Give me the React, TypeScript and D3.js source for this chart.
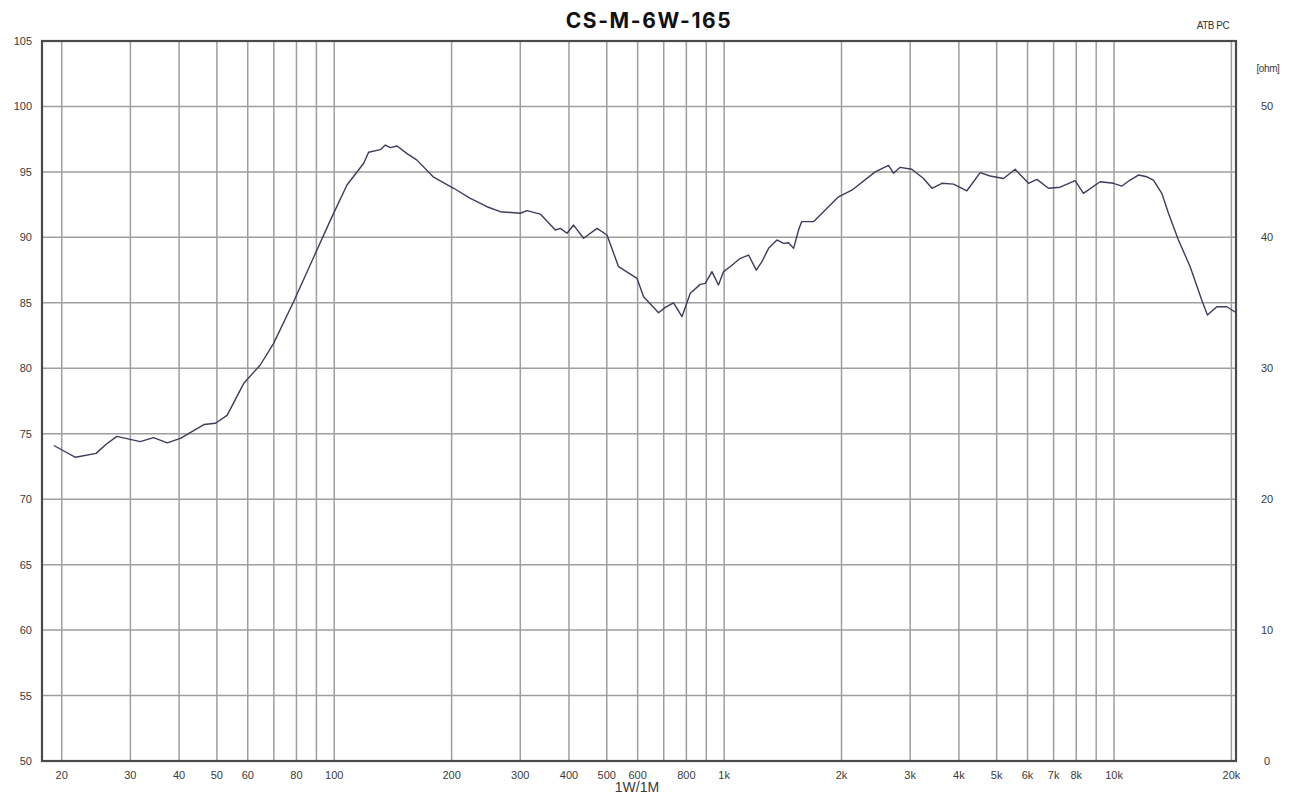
import React from "react";
import * as d3 from "d3";

const title = "CS-M-6W-165";
const freqs = [19.1, 20.2, 21.7, 24.5, 26, 27.7, 31.8, 34.4, 37.3, 40.3, 46.3, 49.6, 53.1, 58.6, 64.6, 69.9, 78.7, 88.6, 97.7, 107.8, 119, 122.5, 131.3, 135.2, 139.3, 144.9, 153.7, 163, 179.8, 202.4, 223.4, 246.4, 266.6, 300.2, 312.2, 337.6, 369, 380, 395.4, 411, 436, 472, 500.6, 536, 597.6, 621.4, 679, 706, 741.8, 779.4, 818.8, 868.4, 894.4, 930.6, 967, 996, 1036, 1100, 1155, 1209, 1250, 1300, 1366, 1420, 1463, 1507, 1552, 1580, 1695, 1852, 1965, 2126, 2440, 2640, 2718, 2828, 3030, 3246, 3412, 3618, 3876, 4194, 4536, 4812, 5206, 5578, 6034, 6340, 6792, 7276, 7948, 8348, 9212, 9964, 10472, 10996, 11548, 12138, 12620, 13262, 13790, 14626, 15676, 16792, 17358, 18348, 19464, 20440];
const spl = [74.1, 73.7, 73.2, 73.5, 74.2, 74.8, 74.4, 74.7, 74.3, 74.65, 75.7, 75.8, 76.4, 78.85, 80.25, 81.9, 85.1, 88.5, 91.3, 94.0, 95.66, 96.5, 96.7, 97.05, 96.85, 96.98, 96.4, 95.9, 94.6, 93.75, 92.98, 92.34, 91.96, 91.84, 92.04, 91.78, 90.56, 90.69, 90.31, 90.94, 89.93, 90.69, 90.18, 87.76, 86.87, 85.47, 84.24, 84.65, 85.0, 83.94, 85.73, 86.41, 86.49, 87.38, 86.36, 87.38, 87.76, 88.4, 88.65, 87.5, 88.14, 89.16, 89.8, 89.54, 89.59, 89.16, 90.56, 91.2, 91.2, 92.34, 93.1, 93.6, 95.0, 95.5, 94.9, 95.35, 95.2, 94.5, 93.75, 94.13, 94.07, 93.56, 94.94, 94.69, 94.5, 95.2, 94.13, 94.43, 93.75, 93.83, 94.33, 93.36, 94.25, 94.13, 93.92, 94.38, 94.76, 94.63, 94.38, 93.36, 91.84, 89.8, 87.76, 85.2, 84.07, 84.7, 84.7, 84.3];

const gridFreqs = [20, 30, 40, 50, 60, 70, 80, 90, 100, 200, 300, 400, 500, 600, 700, 800, 900, 1000, 2000, 3000, 4000, 5000, 6000, 7000, 8000, 9000, 10000, 20000];
const labelFreqs = [20, 30, 40, 50, 60, 80, 100, 200, 300, 400, 500, 600, 800, 1000, 2000, 3000, 4000, 5000, 6000, 7000, 8000, 10000, 20000];
const dbTicks = [50, 55, 60, 65, 70, 75, 80, 85, 90, 95, 100, 105];
const ohmTicks = [0, 10, 20, 30, 40, 50];

const W = 1298, H = 799;
const L = 42, R = 1236, T = 41, B = 761;

export default function App() {
  const x = d3.scaleLog().domain([17.8, 20550]).range([L, R]);
  const y = d3.scaleLinear().domain([50, 105]).range([B, T]);
  const yOhm = d3.scaleLinear().domain([0, 55]).range([B, T]);
  const line = d3.line<number>().x((_, i) => x(freqs[i])).y((d) => y(d));
  const fmt = (f: number) => (f >= 1000 ? `${f / 1000}k` : `${f}`);
  const font = "'Liberation Sans', Arial, sans-serif";
  return (
    <svg width={W} height={H} style={{ position: "absolute", left: 0, top: 0, background: "#fff" }}>
      <text x={649} y={28} textAnchor="middle" fontFamily="Inter, 'Open Sans', sans-serif" fontWeight={700} fontSize={21} fill="#111" letterSpacing={1.6}>{title}</text>
      <text x={1213} y={29} textAnchor="middle" fontFamily={font} fontSize={10} fill="#333" letterSpacing={-0.5}>ATB PC</text>
      {gridFreqs.map((f) => (
        <line key={"v" + f} x1={x(f)} x2={x(f)} y1={T} y2={B} stroke="#9e9e9e" strokeWidth={1.5} />
      ))}
      {dbTicks.map((d) => (
        <line key={"h" + d} x1={L} x2={R} y1={y(d)} y2={y(d)} stroke="#9e9e9e" strokeWidth={1.5} />
      ))}
      <rect x={L} y={T} width={R - L} height={B - T} fill="none" stroke="#4a4a4a" strokeWidth={2.2} />
      <path d={line(spl) || ""} fill="none" stroke="#3c3c5c" strokeWidth={1.4} strokeLinejoin="round" />
      {dbTicks.map((d) => (
        <text key={"yl" + d} x={32} y={y(d) + 4} textAnchor="end" fontFamily={font} fontSize={11} fill="#3a3a3a">{d}</text>
      ))}
      {ohmTicks.map((o) => (
        <text key={"ol" + o} x={1267} y={yOhm(o) + 4} textAnchor="middle" fontFamily={font} fontSize={11} fill="#3a3a3a">{o}</text>
      ))}
      <text x={1268} y={72} textAnchor="middle" fontFamily={font} fontSize={10} fill="#3a3a3a" letterSpacing={-0.4}>[ohm]</text>
      {labelFreqs.map((f) => (
        <text key={"xl" + f} x={x(f)} y={779} textAnchor="middle" fontFamily={font} fontSize={11} fill="#3a3a3a">{fmt(f)}</text>
      ))}
      <text x={637} y={792} textAnchor="middle" fontFamily={font} fontSize={14} fill="#3a3a3a">1W/1M</text>
    </svg>
  );
}
